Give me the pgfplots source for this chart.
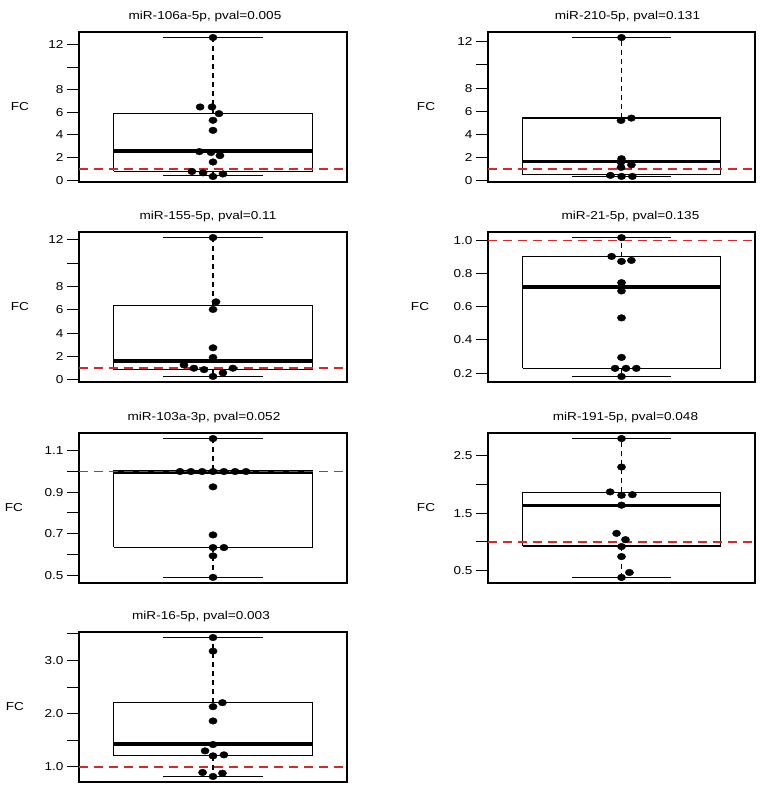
\documentclass[border=0pt]{standalone}
\usepackage{pgfplots}
\pgfplotsset{compat=1.18}
\usepackage{fontspec}
\setmainfont{Liberation Sans}[FakeStretch=1.18]
\definecolor{rred}{RGB}{214,40,40}
% box drawn from five read values: lower whisker, lower quartile, median, upper quartile, upper whisker
\newcommand{\rbox}[5]{%
  \addplot[black, solid, line width=1.1pt, line join=miter] coordinates {(0.6,#2) (1.4,#2) (1.4,#4) (0.6,#4) (0.6,#2)};
  \addplot[black, line width=1.5pt, dash pattern=on 5pt off 4pt] coordinates {(1,#4) (1,#5)};
  \addplot[black, line width=1.5pt, dash pattern=on 5pt off 4pt] coordinates {(1,#2) (1,#1)};
  \addplot[black, solid, line width=1.1pt] coordinates {(0.8,#5) (1.2,#5)};
  \addplot[black, solid, line width=1.1pt] coordinates {(0.8,#1) (1.2,#1)};
  \addplot[black, solid, line width=3.6pt] coordinates {(0.6,#3) (1.4,#3)};
}
\pgfplotsset{
  rpanel/.style={
    scale only axis, width=268pt, height=150pt,
    anchor=south west,
    xmin=0.46, xmax=1.54, xtick=\empty,
    ytick pos=left, tick align=outside, major tick length=12pt,
    every tick/.style={black, line width=1pt},
    axis line style={line width=1.2pt},
    tick label style={font=\fontsize{11.5}{13}\selectfont},
    /pgf/number format/assume math mode=true,
    title style={font=\fontsize{11.5}{13}\selectfont, at={(axis description cs:0.5,1)}, anchor=center, yshift=9pt},
    ylabel=FC,
    ylabel style={font=\fontsize{11.5}{13}\selectfont, rotate=-90, at={(axis description cs:0,0.5)}, anchor=center},
  },
  pts/.style={only marks, mark=*, mark size=3.3pt, mark options={xscale=1.25, fill=black, draw=black, solid}},
  refl/.style={rred, line width=1.5pt, dash pattern=on 9pt off 6pt},
}
\begin{document}
\begin{tikzpicture}
\useasboundingbox (0,0) rectangle (765pt,791pt);

% Panel 1
\begin{axis}[rpanel, at={(79pt,609pt)}, ymin=-0.17, ymax=13.11,
  ytick={0,2,4,6,8,10,12}, yticklabels={0,2,4,6,8,,12},
  title={miR-106a-5p, pval=0.005}, title style={xshift=-8pt}, ylabel style={xshift=-59pt}]
\rbox{0.38}{0.76}{2.59}{5.88}{12.62}
\addplot[refl] coordinates {(0.46,1) (1.54,1)};
\addplot[pts] coordinates {(1,12.62) (0.948,6.47) (0.996,6.47) (1.024,5.88) (1,5.29) (1,4.40) (0.945,2.52) (0.992,2.44) (1.028,2.17) (1,1.60) (0.915,0.76) (0.96,0.64) (1.04,0.54) (1,0.32)};
\end{axis}

% Panel 2
\begin{axis}[rpanel, at={(488pt,609pt)}, width=267pt, ymin=-0.11, ymax=12.85,
  ytick={0,2,4,6,8,10,12}, yticklabels={0,2,4,6,8,,12},
  title={miR-210-5p, pval=0.131}, title style={xshift=6pt}, ylabel style={xshift=-62pt}]
\rbox{0.37}{0.52}{1.65}{5.42}{12.37}
\addplot[refl] coordinates {(0.46,1) (1.54,1)};
\addplot[pts] coordinates {(1,12.37) (0.998,5.21) (1.04,5.41) (1,1.9) (0.998,1.6) (1.04,1.37) (0.998,1.15) (0.955,0.46) (1,0.37) (1.044,0.37)};
\end{axis}

% Panel 3
\begin{axis}[rpanel, at={(79pt,409pt)}, ymin=-0.18, ymax=12.68,
  ytick={0,2,4,6,8,10,12}, yticklabels={0,2,4,6,8,,12},
  title={miR-155-5p, pval=0.11}, title style={xshift=-5pt}, ylabel style={xshift=-59pt}]
\rbox{0.3}{0.88}{1.6}{6.41}{12.2}
\addplot[refl] coordinates {(0.46,1) (1.54,1)};
\addplot[pts] coordinates {(1,12.2) (1.012,6.69) (1,6.04) (1,2.75) (1,1.92) (0.883,1.28) (0.923,1.0) (0.964,0.88) (1,0.3) (1.04,0.6) (1.08,1.0)};
\end{axis}

% Panel 4
\begin{axis}[rpanel, at={(488pt,409pt)}, width=267pt, ymin=0.147, ymax=1.05,
  ytick={0.2,0.4,0.6,0.8,1.0}, yticklabels={0.2,0.4,0.6,0.8,1.0},
  title={miR-21-5p, pval=0.135}, title style={xshift=9pt}, ylabel style={xshift=-68pt}]
\rbox{0.18}{0.23}{0.72}{0.90}{1.016}
\addplot[refl] coordinates {(0.46,1) (1.54,1)};
\addplot[pts] coordinates {(1,1.016) (0.96,0.903) (1,0.873) (1.04,0.879) (1,0.745) (1,0.72) (1,0.695) (1,0.533) (1,0.295) (0.974,0.229) (1.018,0.229) (1.06,0.229) (1,0.18)};
\end{axis}

% Panel 5
\begin{axis}[rpanel, at={(79pt,208pt)}, ymin=0.462, ymax=1.186,
  ytick={0.5,0.6,0.7,0.8,0.9,1.0,1.1}, yticklabels={0.5,,0.7,,0.9,,1.1},
  title={miR-103a-3p, pval=0.052}, title style={xshift=-9pt}, ylabel style={xshift=-65pt}]
\rbox{0.49}{0.635}{0.998}{1.005}{1.159}
\addplot[refl] coordinates {(0.46,1) (1.54,1)};
\addplot[pts] coordinates {(1,1.159) (0.867,1.0) (0.911,1.0) (0.956,1.0) (1,1.0) (1.044,1.0) (1.089,1.0) (1.133,1.0) (1,0.926) (1,0.694) (1,0.633) (1.044,0.633) (1,0.593) (1,0.489)};
\end{axis}

% Panel 6
\begin{axis}[rpanel, at={(488pt,208pt)}, width=267pt, ymin=0.289, ymax=2.889,
  ytick={0.5,1.0,1.5,2.0,2.5}, yticklabels={0.5,,1.5,,2.5},
  title={miR-191-5p, pval=0.048}, title style={xshift=4pt}, ylabel style={xshift=-62pt}]
\rbox{0.385}{0.93}{1.635}{1.86}{2.793}
\addplot[refl] coordinates {(0.46,1) (1.54,1)};
\addplot[pts] coordinates {(1,2.793) (1,2.299) (0.954,1.868) (1,1.81) (1.044,1.82) (1,1.638) (0.98,1.149) (1.016,1.04) (1,0.92) (1,0.747) (1.032,0.471) (1,0.385)};
\end{axis}

% Panel 7
\begin{axis}[rpanel, at={(79pt,9pt)}, ymin=0.715, ymax=3.535,
  ytick={1.0,1.5,2.0,2.5,3.0,3.5}, yticklabels={1.0,,2.0,,3.0,{}},
  title={miR-16-5p, pval=0.003}, title style={xshift=-12pt}, ylabel style={xshift=-64pt}]
\rbox{0.819}{1.206}{1.425}{2.206}{3.431}
\addplot[refl] coordinates {(0.46,1) (1.54,1)};
\addplot[pts] coordinates {(1,3.431) (1,3.175) (1.038,2.206) (1,2.131) (1,1.863) (1,1.419) (0.968,1.30) (1,1.206) (1.044,1.225) (0.958,0.894) (1.038,0.881) (1,0.819)};
\end{axis}
\end{tikzpicture}
\end{document}
